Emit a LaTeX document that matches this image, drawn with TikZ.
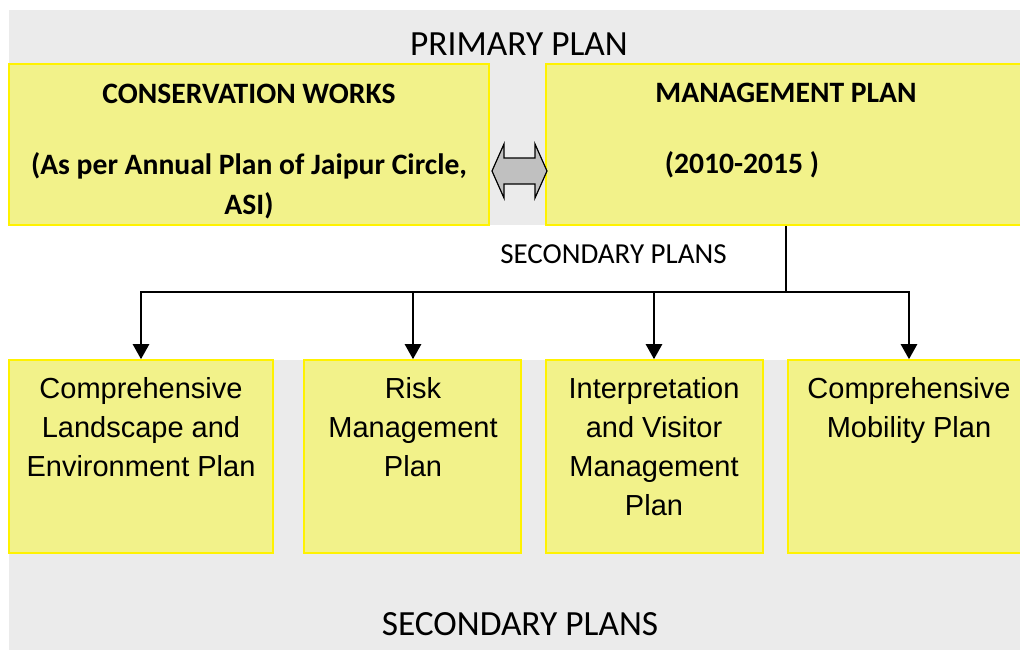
\documentclass[tikz,border=0pt]{standalone}
\usepackage{fontspec}
\setmainfont{Carlito}
\newfontfamily\arialfont{Liberation Sans}
\usetikzlibrary{calc,positioning,arrows.meta}
\definecolor{bandgray}{RGB}{235,235,235}
\definecolor{boxfill}{RGB}{242,242,138}
\definecolor{arrgray}{RGB}{192,192,192}

\begin{document}
\begin{tikzpicture}[x=1pt,y=-1pt,
  planbox/.style={draw=yellow,line width=1.6pt,fill=boxfill,rectangle,inner sep=0pt},
  boldtxt/.style={font=\fontsize{29.6}{40}\selectfont\bfseries,align=center,inner sep=0pt},
  subtxt/.style={font=\arialfont\fontsize{29}{39}\selectfont,align=center,inner sep=0pt,anchor=north},
  headtxt/.style={font=\fontsize{35.4}{42}\selectfont,inner sep=0pt,anchor=base},
  feed/.style={line width=2.5pt,-{Triangle[length=15pt,width=16pt]}}]
  \useasboundingbox (0,0) rectangle (1020,651);
  % sede pasy za primarnim a sekundarnim planem
  \fill[bandgray] (9,10) rectangle (1020,225);
  \fill[bandgray] (9,360) rectangle (1020,650);
  \node[headtxt] (primlbl) at (519,55) {PRIMARY PLAN};
  \node[headtxt] (seclbl) at (520,635) {SECONDARY PLANS};

  \node[planbox,minimum width=480,minimum height=161] (cons) at (249,144.5) {};
  \node[planbox,minimum width=478,minimum height=161] (mgmt) at (785,144.5) {};
  \node[boldtxt,anchor=north] (constxt) at (249,84)
    {CONSERVATION WORKS\\[31pt](As per Annual Plan of Jaipur Circle,\\ASI)};
  \node[boldtxt,anchor=base] (mgmttitle) at (786,102) {MANAGEMENT PLAN};
  \node[boldtxt,anchor=base] (mgmtyears) at (742,173) {(2010-2015 )};

  % obousmerna sipka mezi hornimi boxy
  \coordinate (swap) at (519.5,171);
  \draw[fill=arrgray,line width=1.2pt,line join=miter] ($(swap)+(-27.5,0)$)
    -- ++(12,-27) -- ++(0,14) -- ++(31,0) -- ++(0,-14) -- ++(12,27)
    -- ++(-12,27) -- ++(0,-14) -- ++(-31,0) -- ++(0,14) -- cycle;

  \node[font=\fontsize{29}{35}\selectfont,inner sep=0pt,anchor=base] (midlbl) at (613.5,263) {SECONDARY PLANS};

  \node[planbox,minimum width=264,minimum height=193] (landp) at (141,456.5) {};
  \node[planbox,minimum width=217,minimum height=193] (riskp) at (412.5,456.5) {};
  \node[planbox,minimum width=217,minimum height=193] (visp) at (654.5,456.5) {};
  \node[planbox,minimum width=236,minimum height=193] (mobp) at (906,456.5) {};
  \node[subtxt] (landtxt) at (141,377) {Comprehensive\\Landscape and\\Environment Plan};
  \node[subtxt] (risktxt) at (413,377) {Risk\\Management\\Plan};
  \node[subtxt] (vistxt) at (654,377) {Interpretation\\and Visitor\\Management\\Plan};
  \node[subtxt] (mobtxt) at (909,377) {Comprehensive\\Mobility Plan};

  \coordinate (fork) at (786,292);
  \draw[line width=2.5pt] (mgmt.south -| fork) -- (fork);
  \foreach \t/\b in {landtxt/landp,risktxt/riskp,vistxt/visp,mobtxt/mobp}
    \draw[feed] (fork) -| (\t |- \b.north);
\end{tikzpicture}
\end{document}
